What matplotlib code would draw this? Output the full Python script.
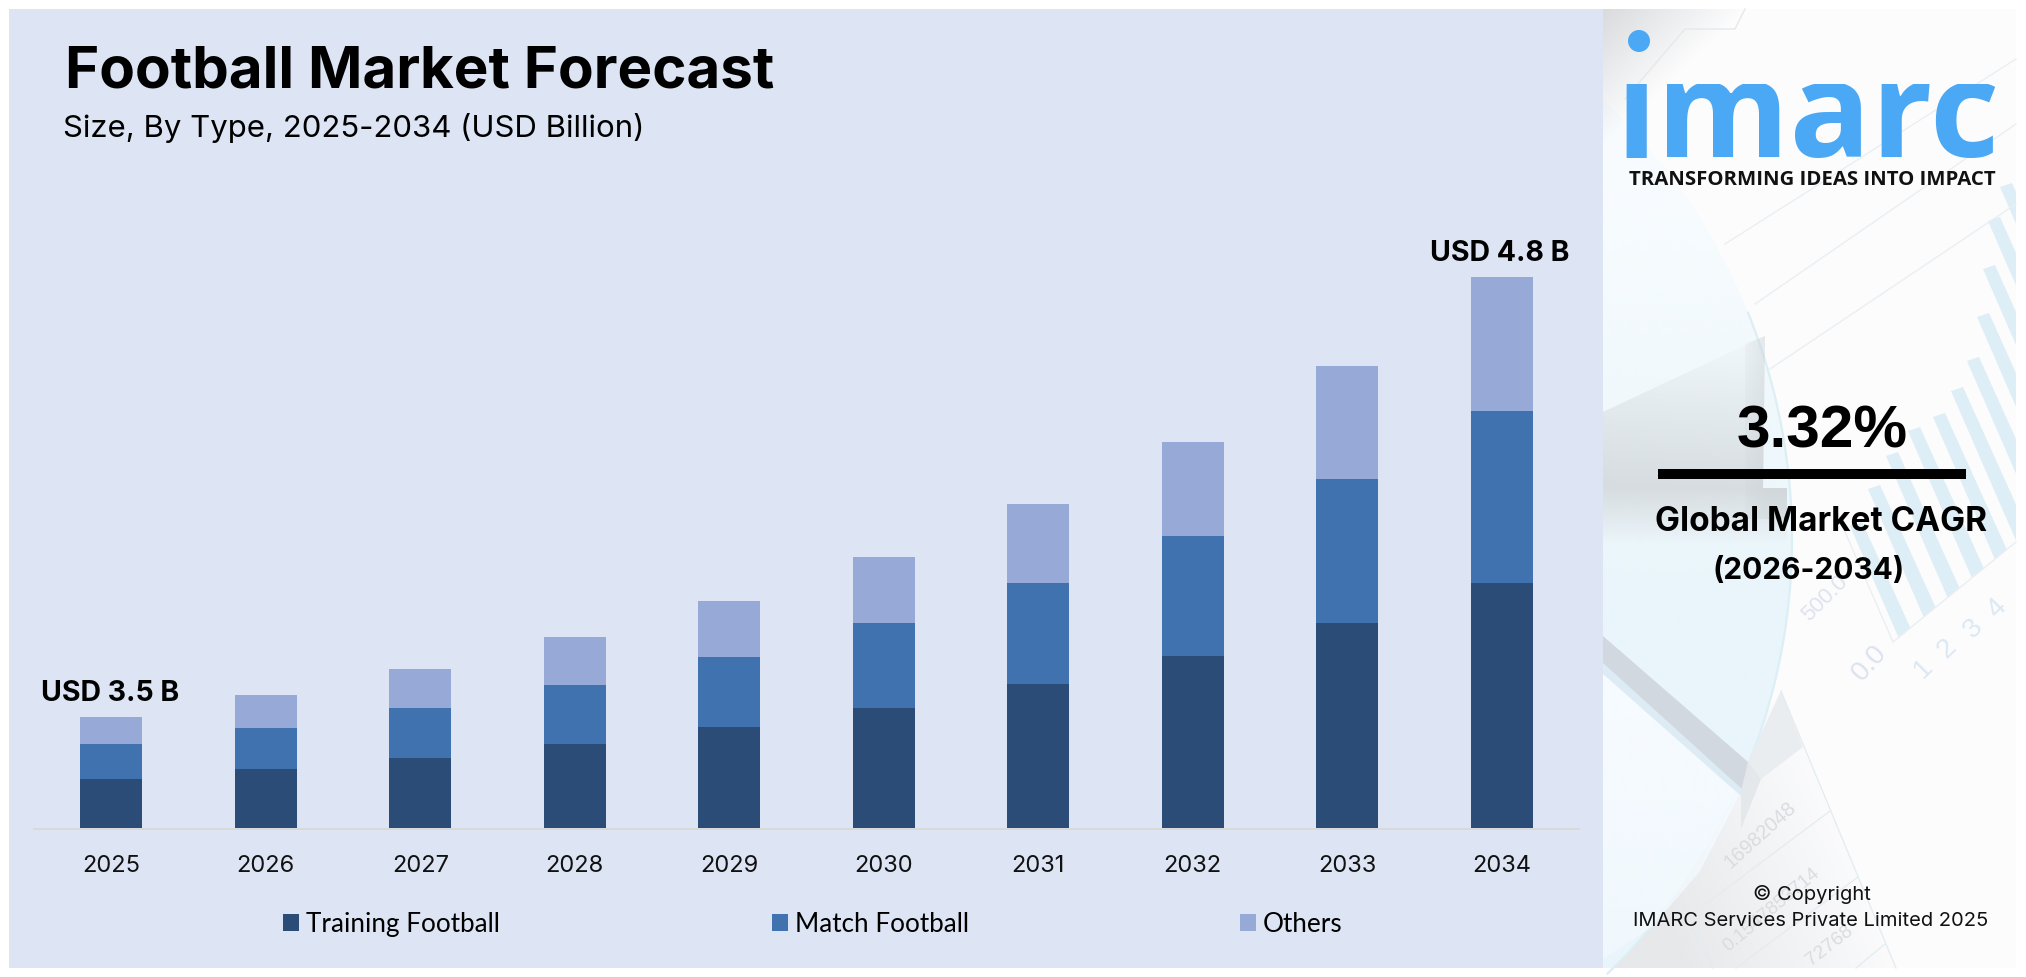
import numpy as np
import matplotlib
matplotlib.use("Agg")
import matplotlib.pyplot as plt
from matplotlib.patches import Polygon, Rectangle, Circle
from matplotlib.colors import to_rgb
from matplotlib.transforms import Bbox

# ---- data (heights; no value axis is shown) ----
years = ["2025", "2026", "2027", "2028", "2029", "2030", "2031", "2032", "2033", "2034"]
training = [49, 59, 70, 84, 101, 120, 144, 172, 205, 245]
match = [35, 41, 50, 59, 70, 85, 101, 120, 144, 172]
others = [27, 33, 39, 48, 56, 66, 79, 94, 113, 134]
series_names = ["Training Football", "Match Football", "Others"]
end_labels = {0: ("USD 3.5 B", -0.7), 9: ("USD 4.8 B", -1.6)}

W, H = 2026, 978
C_DARK, C_MID, C_LIGHT = "#2B4C76", "#4072AF", "#97A9D7"
PANEL = "#DDE4F3"
FONT = "Inter"

fig = plt.figure(figsize=(W / 100, H / 100), dpi=100, facecolor="white")


def X(x):
    return x / W


def Y(y):
    return 1 - y / H


# ---- background layer in pixel coordinates ----
bg = fig.add_axes([0, 0, 1, 1], zorder=0)
bg.set_xlim(0, W)
bg.set_ylim(H, 0)
bg.axis("off")
bg.add_patch(Rectangle((9, 10), 1594, 959, fc=PANEL, ec="none"))
RX0, RX1, RY0, RY1 = 1603, 2016, 10, 969
frame = Rectangle((RX0, RY0), RX1 - RX0, RY1 - RY0, fc="#FCFCFD", ec="none", zorder=0.5)
bg.add_patch(frame)


def gradient(points, color, a0, a1, p0, p1, z=1.0):
    """Polygon filled with a linear alpha ramp running from p0 to p1."""
    xs, ys = np.meshgrid(np.arange(RX0, RX1, 2.0), np.arange(RY0, RY1, 2.0))
    d = np.array(p1, float) - np.array(p0, float)
    t = np.clip(((xs - p0[0]) * d[0] + (ys - p0[1]) * d[1]) / (d @ d), 0, 1)
    img = np.zeros(xs.shape + (4,))
    img[..., :3] = to_rgb(color)
    img[..., 3] = a0 + (a1 - a0) * t
    im = bg.imshow(img, extent=(RX0, RX1, RY1, RY0), zorder=z, aspect="auto", interpolation="bilinear")
    poly = Polygon(points, transform=bg.transData, fc="none", ec="none")
    bg.add_patch(poly)
    im.set_clip_path(poly)


# sheet lower right, grey fading rightwards
gradient([(1781, 692), (1896, RY1), (RX0, RY1), (RX0, 900), (1700, 820)], "#DDE0E3", 0.7, 0.0,
         (1670, 930), (1860, 850), z=0.8)

# pale disc at the left of the panel
cx, cy, r = 1188, 540, 604
th = np.radians(np.linspace(-46.5, 46, 90))
arc = [(cx + r * np.cos(a), cy + r * np.sin(a)) for a in th]
disc = [(RX0, 100)] + arc + [(RX0, RY1)]
gradient(disc, "#FAFDFF", 1.0, 1.0, (1603, 100), (1700, 800), z=0.9)
gradient(disc, "#E9F5FB", 0.15, 1.0, (1700, 200), (1700, 630), z=1.0)
th2 = np.radians(np.linspace(-22, 46, 60))
bg.plot(cx + r * np.cos(th2), cy + r * np.sin(th2), color="#DCEEF6", lw=1.6, zorder=1.1)
# the lower-left part of the disc whitens below the pen
gradient([(RX0, 669), (1741, 793), (1700, 872), (1653, 927), (RX0, 960)], "#F6FBFF", 1.0, 0.6,
         (1640, 720), (1640, 950), z=1.15)

# top-left grey corner
gradient([(RX0, RY0), (1745, RY0), (RX0, 150)], "#CDD0D1", 0.75, 0.0, (RX0, RY0), (1670, 80), z=1.2)
# grey block
gradient([(RX0, 413), (1765, 337), (1763, 489), (RX0, 489)], "#D3D8DB", 0.1, 0.85, (1700, 350), (1690, 489), z=1.3)
gradient([(RX0, 489), (1763, 489), (1787, 489), (1787, 545), (RX0, 545)], "#D3D8DB", 0.85, 0.0, (1690, 489), (1690, 545), z=1.3)
gradient([(1745, 345), (1765, 337), (1763, 489), (1787, 489), (1787, 520), (1745, 520)], "#C9CFD3", 0.0, 0.4,
         (1735, 430), (1765, 430), z=1.35)
# paper fold
bg.add_patch(Polygon([(1748, 763), (1781, 692), (1803, 748), (1761, 780)], fc="#E9EDF0", ec="none", zorder=1.7))
bg.add_patch(Polygon([(1748, 763), (1761, 780), (1741, 830), (1741, 793)], fc="#E4E8EB", ec="none", zorder=1.7))
# pen
bg.add_patch(Polygon([(RX0, 637), (1748, 763), (1741, 793), (RX0, 667)], fc="#D2D8DF", ec="none", zorder=1.8))
bg.add_patch(Polygon([(RX0, 664), (1742, 790), (1741, 797), (RX0, 675)], fc="#DDECF4", ec="none", zorder=1.8))
# thin sheet lines
for a, b in [((1781, 692), (1896, 969)), ((1703, 907), (1830, 812)), ((1736, 969), (1858, 878)),
             ((1693, 930), (1713, 969)), ((1856, 969), (1885, 945))]:
    bg.plot(*zip(a, b), color="#E2ECF2", lw=0.9, zorder=1.9)

# chart-in-photo bars, pale blue: each runs from its top down to the photo's base line
bar_tops = [(2000, 188), (1988, 222), (1983, 270), (1977, 318), (1967, 362), (1951, 392), (1933, 418),
            (1908, 432), (1886, 457), (1868, 490), (1850, 527)]
BASE = ((1893, 643), (2016, 543))
SLOPE = 2.3
base_m = (BASE[1][1] - BASE[0][1]) / (BASE[1][0] - BASE[0][0])
clip = Rectangle((RX0, RY0), RX1 - RX0, RY1 - RY0, transform=bg.transData)
for tx, ty in bar_tops:
    ex = (BASE[0][1] - base_m * BASE[0][0] - ty + SLOPE * tx) / (SLOPE - base_m)
    ey = ty + SLOPE * (ex - tx)
    w = 12
    bar = Polygon([(tx, ty), (tx + w, ty - 4), (ex + w, ey - 0.8 * w), (ex, ey)], fc="#DDEEF6", ec="none", zorder=2)
    bg.add_patch(bar)
    bar.set_clip_path(clip)
# photo axis lines
for a, b in [((1725, 245), (2016, 60)), ((1755, 305), (2016, 125)), ((1893, 643), (2016, 543)), ((1770, 370), (2016, 205)),
             ((1893, 643), (1835, 510))]:
    bg.plot(*zip(a, b), color="#E9EFF3", lw=1, zorder=2)
bg.plot([1625, 1685, 1735, 1745], [100, 30, 30, 10], color="#E6E8EA", lw=1, zorder=2)

# faint numbers that belong to the photo
faint = [("500.0", 1825, 598, 45, 16, "#DFE3EF"), ("0.0", 1870, 663, 48, 20, "#DDE2F0"),
         ("1", 1923, 669, 45, 20, "#DCE9F4"), ("2", 1947, 649, 45, 20, "#DCE9F4"),
         ("3", 1973, 629, 45, 20, "#DCE9F4"), ("4", 1997, 609, 45, 20, "#DCE9F4"),
         ("16982048", 1760, 835, 42, 14.5, "#D9DCE0"),
         ("0.1547853714", 1771, 910, 40, 13.5, "#D9DCE0"), ("72768", 1830, 946, 38, 14, "#D9DCE0")]
for s, fx, fy, rot, fs, col in faint:
    bg.text(fx, fy, s, fontsize=fs, rotation=rot, ha="center", va="center", color=col,
            family="Liberation Sans", zorder=2.5, clip_on=True)

# ---- the chart ----
AX_L, AX_R, AX_T, AX_B = 34, 1579, 150, 829
ax = fig.add_axes([X(AX_L), Y(AX_B), (AX_R - AX_L) / W, (AX_B - AX_T) / H], zorder=2)
ax.patch.set_alpha(0)
for s in ("left", "right", "top"):
    ax.spines[s].set_visible(False)
ax.spines["bottom"].set_color("#D9D9D9")
ax.spines["bottom"].set_linewidth(1.44)
ax.spines["bottom"].set_position(("outward", 0.7))
pos = np.arange(len(years))
t, m, o = map(np.array, (training, match, others))
b1 = ax.bar(pos, t, width=0.4, color=C_DARK, label=series_names[0])
b2 = ax.bar(pos, m, width=0.4, bottom=t, color=C_MID, label=series_names[1])
b3 = ax.bar(pos, o, width=0.4, bottom=t + m, color=C_LIGHT, label=series_names[2])
ax.set_xlim(-0.5, 9.5)
ax.set_ylim(0, AX_B - AX_T)
ax.set_xticks(pos, years, fontsize=17, family=FONT, color="#111111")
ax.tick_params(axis="x", length=0, pad=18)
ax.set_yticks([])
total = t + m + o
for i, (label, dx) in end_labels.items():
    ax.annotate(label, (pos[i], total[i]), xytext=(dx, 12.2), textcoords="offset points",
                ha="center", va="baseline", fontsize=20.5, fontweight="bold", family=FONT, color="black")

fig.legend(handles=[b1, b2, b3], labels=series_names, loc="center",
           bbox_to_anchor=(X(813), Y(925)), ncol=3, frameon=False,
           prop={"family": "Lato", "size": 18.8},
           columnspacing=10.4, handlelength=0.62, handleheight=0.62, handletextpad=0.26, borderpad=0)

# ---- titles ----
fig.text(X(65), Y(87), "Football Market Forecast", fontsize=42, fontweight="bold", family=FONT, va="baseline", color="black")
fig.text(X(63), Y(137), "Size, By Type, 2025-2034 (USD Billion)", fontsize=22.4, family=FONT, va="baseline", color="black")

# ---- right panel ----
BLUE = "#4BA8F5"
logo = fig.text(X(1615), Y(157), "imarc", fontsize=97.5, fontweight="bold", family="Open Sans", color=BLUE, va="baseline", zorder=5)
logo.set_clip_box(Bbox.from_extents(1600, H - 160, 2016, H - 85))
logo.set_clip_on(True)
bg.add_patch(Circle((1639, 42), 11, fc=BLUE, ec="none", zorder=5))
fig.text(X(1812.5), Y(185), "TRANSFORMING IDEAS INTO IMPACT", fontsize=14.7, fontweight="bold", family="Open Sans",
         ha="center", va="baseline", color="#111111", zorder=5)
fig.text(X(1822), Y(448), "3.32%", fontsize=43.5, fontweight="bold", family="Liberation Sans", ha="center", va="baseline", color="black", zorder=5)
bg.add_patch(Rectangle((1658, 470), 308, 10, fc="black", ec="none", zorder=5))
fig.text(X(1821), Y(531), "Global Market CAGR", fontsize=24, fontweight="bold", family=FONT, ha="center", va="baseline", color="black", zorder=5)
fig.text(X(1809), Y(579), "(2026-2034)", fontsize=21.5, fontweight="bold", family=FONT, ha="center", va="baseline", color="black", zorder=5)
fig.text(X(1812), Y(900), "© Copyright", fontsize=14.5, family=FONT, ha="center", va="baseline", color="#111111", zorder=5)
fig.text(X(1811), Y(926), "IMARC Services Private Limited 2025", fontsize=14.5, family=FONT, ha="center", va="baseline", color="#111111", zorder=5)

fig.savefig("out.png", dpi=100, facecolor="white")
